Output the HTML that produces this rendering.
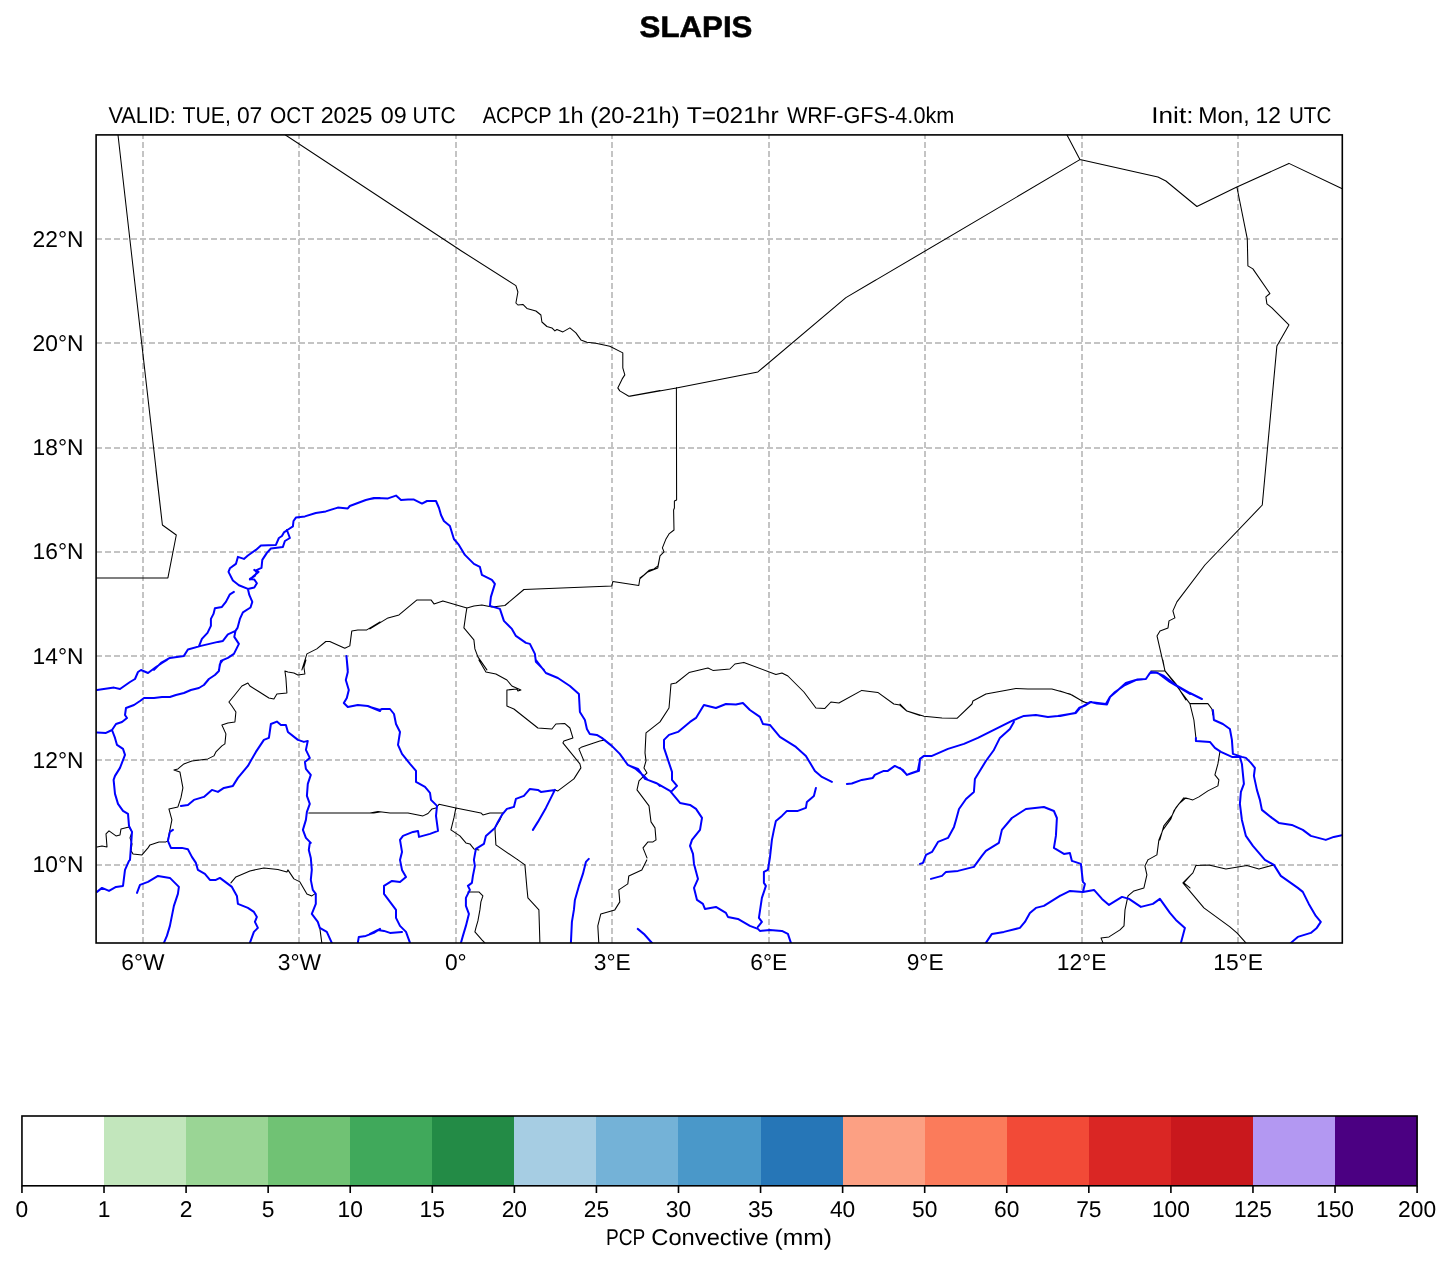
<!DOCTYPE html>
<html><head><meta charset="utf-8"><style>
html,body{margin:0;padding:0;background:#fff;width:1451px;height:1264px;overflow:hidden}
svg{will-change:transform}
.t{font-family:"Liberation Sans",sans-serif;fill:#000;text-rendering:geometricPrecision}
</style></head><body>
<svg width="1451" height="1264" viewBox="0 0 1451 1264" style="position:absolute;left:0;top:0">
<rect width="100%" height="100%" fill="#fff"/>
<text x="696" y="36.6" text-anchor="middle" font-size="29.8" font-weight="bold" stroke="#000" stroke-width="0.6" textLength="112.8" lengthAdjust="spacingAndGlyphs" class="t">SLAPIS</text>
<text x="108.48" y="123" font-size="22.8" textLength="67.24" lengthAdjust="spacingAndGlyphs" class="t">VALID:</text>
<text x="182.48" y="123" font-size="22.8" textLength="48.52" lengthAdjust="spacingAndGlyphs" class="t">TUE,</text>
<text x="236.90" y="123" font-size="22.8" textLength="25.43" lengthAdjust="spacingAndGlyphs" class="t">07</text>
<text x="270.01" y="123" font-size="22.8" textLength="44.19" lengthAdjust="spacingAndGlyphs" class="t">OCT</text>
<text x="320.69" y="123" font-size="22.8" textLength="51.72" lengthAdjust="spacingAndGlyphs" class="t">2025</text>
<text x="380.66" y="123" font-size="22.8" textLength="25.99" lengthAdjust="spacingAndGlyphs" class="t">09</text>
<text x="412.53" y="123" font-size="22.8" textLength="43.23" lengthAdjust="spacingAndGlyphs" class="t">UTC</text>
<text x="482.68" y="123" font-size="22.8" textLength="69.03" lengthAdjust="spacingAndGlyphs" class="t">ACPCP</text>
<text x="557.48" y="123" font-size="22.8" textLength="26.13" lengthAdjust="spacingAndGlyphs" class="t">1h</text>
<text x="590.39" y="123" font-size="22.8" textLength="89.23" lengthAdjust="spacingAndGlyphs" class="t">(20-21h)</text>
<text x="686.69" y="123" font-size="22.8" textLength="91.91" lengthAdjust="spacingAndGlyphs" class="t">T=021hr</text>
<text x="786.89" y="123" font-size="22.8" textLength="167.50" lengthAdjust="spacingAndGlyphs" class="t">WRF-GFS-4.0km</text>
<text x="1151.32" y="123" font-size="22.8" textLength="42.13" lengthAdjust="spacingAndGlyphs" class="t">Init:</text>
<text x="1198.23" y="123" font-size="22.8" textLength="51.35" lengthAdjust="spacingAndGlyphs" class="t">Mon,</text>
<text x="1255.53" y="123" font-size="22.8" textLength="25.41" lengthAdjust="spacingAndGlyphs" class="t">12</text>
<text x="1288.99" y="123" font-size="22.8" textLength="42.24" lengthAdjust="spacingAndGlyphs" class="t">UTC</text>
<text x="606.01" y="1244.7" font-size="22.8" textLength="39.30" lengthAdjust="spacingAndGlyphs" class="t">PCP</text>
<text x="651.28" y="1244.7" font-size="22.8" textLength="117.33" lengthAdjust="spacingAndGlyphs" class="t">Convective</text>
<text x="774.54" y="1244.7" font-size="22.8" textLength="57.41" lengthAdjust="spacingAndGlyphs" class="t">(mm)</text>
<defs><clipPath id="c"><rect x="96.1" y="134.9" width="1246.2" height="808.1"/></clipPath></defs>
<g clip-path="url(#c)">
<path d="M143 133.3V945 M299 133.3V945 M456 133.3V945 M612 133.3V945 M769 133.3V945 M925 133.3V945 M1082 133.3V945 M1238 133.3V945 M96.17 865H1345 M96.17 760H1345 M96.17 656H1345 M96.17 552H1345 M96.17 448H1345 M96.17 343H1345 M96.17 239H1345" stroke="#c4c4c4" stroke-width="1.8" stroke-dasharray="5.8 3.03" fill="none" shape-rendering="crispEdges"/>
<path d="M118.0 135.0 L162.4 525.0 M285.5 135.0 L460.0 250.0 M156.0 470.0 L162.4 525.0 L176.3 535.0 L167.9 577.9 L96.0 577.9 M301.9 669.9 L306.9 653.9 L316.8 648.9 L325.8 641.5 L329.8 641.5 L344.8 648.3 L349.8 645.9 L351.8 630.9 L357.8 629.9 L366.8 629.9 L380.0 621.9 M305.9 660.0 L303.9 667.0 L304.9 674.0 L297.9 675.0 L293.9 673.0 L287.9 672.0 L284.9 671.0 L285.9 678.0 L286.9 693.0 L276.9 694.0 L273.9 699.0 L268.9 698.0 L257.9 691.0 L249.9 686.0 L247.9 683.0 L241.9 686.0 L233.9 696.0 L228.9 702.0 L231.9 706.0 L235.9 712.0 L234.9 722.0 L227.9 723.0 L221.9 725.0 L225.9 733.9 L224.9 743.9 L221.9 745.9 L215.9 751.9 L213.9 755.9 L207.9 758.9 L191.9 760.9 L183.9 763.9 L177.9 768.9 L173.9 769.9 L179.9 771.9 L182.9 787.9 L180.9 797.9 L177.9 806.9 L168.9 808.9 L171.9 819.9 L169.9 829.9 L167.9 839.9 M308.8 812.9 L373.8 812.9 L380.0 811.9 M97.0 846.9 L102.0 845.9 L107.0 846.9 L106.0 833.9 L109.0 830.9 L116.0 835.9 L120.0 834.9 L121.0 828.9 L129.0 826.9 L132.0 831.9 L130.0 837.9 L132.0 843.9 L131.0 850.9 L133.0 853.9 L142.0 854.9 L148.0 847.9 L150.0 844.9 L159.0 841.9 L165.9 841.9 L167.9 840.9 M230.9 882.9 L235.9 876.9 L249.9 870.9 L263.9 867.9 L277.9 869.5 L286.9 871.9 L287.9 869.9 L293.9 878.9 L299.9 881.9 L306.9 893.9 L311.8 895.9 L314.8 893.9 M319.8 927.9 L321.8 942.9 M459.9 250.0 L515.9 285.6 L517.9 292.0 L515.9 303.0 L517.9 305.0 L522.9 304.4 L526.9 308.4 L535.9 311.0 L540.9 315.0 L541.9 322.0 L546.9 326.5 L551.9 327.9 L554.9 330.9 L556.9 329.5 L562.9 331.9 L569.9 327.9 L575.9 332.9 L580.9 339.9 L586.9 342.3 L595.8 343.3 L609.8 346.3 L622.8 352.9 L622.8 367.9 L624.8 374.9 L622.2 378.9 L617.8 387.9 L619.8 390.9 L628.8 396.3 L660.0 390.5 M370.0 628.9 L388.0 617.9 L399.0 614.9 L417.0 599.9 L431.0 599.9 L434.0 603.9 L442.9 600.9 L466.9 607.9 L473.9 605.9 L481.9 604.9 L491.9 606.9 L504.9 605.5 L523.9 589.5 L611.8 585.9 L612.8 581.5 L638.8 585.5 L639.8 578.9 L647.8 571.9 L657.8 567.9 L660.0 555.9 M466.9 607.9 L465.9 613.9 L463.9 627.9 L473.9 639.9 L474.9 648.9 L477.9 656.9 L486.9 669.9 M478.9 660.0 L485.9 672.0 L495.9 674.0 L506.9 680.0 L511.9 686.0 L520.9 690.0 L517.9 691.0 L516.9 689.0 L506.9 690.0 L506.9 706.0 L513.9 709.0 L537.9 728.0 L551.9 729.0 L555.9 724.0 L564.9 723.6 L569.9 728.0 L572.9 737.9 L563.9 740.9 L562.9 742.9 L579.9 763.9 L580.9 767.9 L573.9 778.9 L557.9 790.9 L554.9 789.9 M583.9 760.9 L578.9 748.9 L581.9 746.9 L599.8 740.9 L604.8 739.9 M370.0 812.9 L378.0 811.5 L390.0 812.9 L408.0 812.9 L423.0 815.9 L428.0 813.5 L432.0 808.9 L436.0 807.9 L439.0 804.3 L455.9 807.9 L480.9 812.9 L482.9 814.9 L489.9 812.9 L502.9 812.9 M455.9 807.9 L453.9 817.9 L450.9 829.9 L459.9 835.9 L465.9 842.9 L469.9 843.9 L473.9 848.9 L478.9 849.9 M502.9 812.9 L499.9 819.9 L494.9 827.9 L495.9 844.9 L517.9 859.9 M467.9 891.9 L478.9 891.9 L482.9 895.9 L480.9 901.9 L479.9 909.9 L477.9 920.9 L475.9 927.9 L474.9 931.9 L481.9 939.9 L484.9 942.9 M517.9 859.9 L524.9 864.9 L526.9 887.9 L527.9 897.9 L538.9 909.9 L539.9 942.9 M646.8 859.9 L641.8 869.9 L628.8 875.9 L627.8 883.9 L618.8 889.9 L619.8 901.9 L614.8 909.9 L600.8 913.9 L597.8 925.9 L598.8 942.9 M630.0 396.3 L676.4 387.9 L757.9 371.9 L845.9 297.6 L875.8 280.0 M876.1 279.9 L1000.0 206.9 L1079.9 159.6 L1067.0 135.0 M1079.9 159.6 L1157.9 177.0 L1165.9 181.0 L1196.9 206.5 L1236.8 187.0 M1236.9 187.0 L1288.9 163.4 L1342.8 189.0 M1236.9 187.0 L1247.3 238.9 L1247.9 265.9 L1252.9 268.9 L1269.9 293.5 L1265.9 296.9 L1266.9 303.9 L1271.9 307.9 L1288.9 324.9 L1276.9 345.9 L1262.3 504.7 M1262.3 505.0 L1204.9 565.0 L1176.9 601.9 L1172.9 610.9 L1174.9 617.9 L1169.0 620.9 L1168.0 627.9 L1160.0 630.9 L1157.0 635.9 L1165.0 670.9 L1151.0 670.9 M1165.0 670.9 L1175.9 683.9 L1185.9 699.9 M1162.9 660.0 L1164.9 671.0 L1150.9 671.0 M1164.9 671.0 L1175.9 685.0 L1189.9 703.6 L1207.9 703.6 L1211.9 709.0 L1212.9 715.0 M1189.9 703.6 L1193.9 720.0 L1195.9 737.9 M1219.9 751.9 L1217.9 763.9 L1214.9 774.9 L1218.9 779.9 L1217.9 785.9 L1207.9 790.9 L1198.9 796.9 L1192.9 799.9 L1185.9 797.9 L1178.9 803.9 L1173.9 810.9 L1170.9 818.9 L1162.9 829.9 L1158.9 839.9 L1156.9 854.9 L1147.9 859.9 M1060.0 691.0 L1072.0 695.0 L1082.0 701.0 L1087.0 703.0 M1147.9 859.9 L1144.9 865.9 L1146.9 874.9 L1143.9 887.9 L1133.9 890.9 L1128.0 895.9 L1125.0 909.9 L1124.0 925.9 L1120.0 929.9 L1109.0 936.9 L1101.0 937.9 L1103.0 942.9 M1182.9 882.9 L1192.9 872.9 L1195.9 865.5 L1208.9 864.9 L1225.9 868.9 L1246.9 865.5 L1258.9 868.9 L1273.9 864.9 M1182.9 882.9 L1203.9 907.9 L1229.9 926.9 L1236.9 932.9 L1245.9 942.9 M676.4 387.6 L676.6 500.0 L674.4 501.0 L674.4 508.0 L673.6 510.0 L674.0 530.0 L669.0 533.9 L666.0 538.9 L662.4 547.9 L664.0 551.9 L660.0 555.9 L658.0 565.9 L654.0 568.9 L649.0 570.3 L644.0 574.9 L640.0 577.9 M656.0 839.9 L655.0 827.9 L651.0 821.9 L649.0 805.9 L637.0 789.9 L639.0 780.9 L647.0 772.9 L644.0 767.9 L646.0 760.9 L645.0 752.9 L646.0 732.9 L660.0 721.9 L669.0 708.0 L671.0 684.0 L676.0 683.0 L689.0 672.6 L707.9 668.0 L712.9 670.4 L729.9 669.0 L734.9 664.0 L743.9 662.4 L775.9 674.4 L781.9 673.0 L787.9 676.0 L803.9 692.0 L815.9 708.0 L824.9 708.4 L830.9 702.0 L838.9 703.0 L861.8 690.4 L877.8 692.4 L893.8 704.0 L899.8 705.0 L906.8 711.0 L920.0 715.5 M656.0 839.9 L653.0 841.9 L648.0 841.9 L643.0 847.9 L647.0 857.9 M900.0 704.0 L907.0 711.0 L924.0 716.3 L942.0 717.9 L957.0 718.3 L972.0 704.0 L972.9 701.0 L985.9 694.0 L1015.9 688.4 L1027.9 689.0 L1051.9 689.0 L1069.9 694.0 L1083.9 702.0 L1087.9 703.0 M1159.8 839.9 L1163.8 825.9 L1171.8 815.9 L1175.8 807.9 L1183.8 797.9 L1190.0 798.9 M1190.0 875.9 L1183.8 882.9 L1190.0 887.9" fill="none" stroke="#000" stroke-width="1.05" stroke-linejoin="round" stroke-linecap="round"/>
<path d="M380.0 498.0 L373.8 498.0 L365.8 500.0 L349.8 506.0 L347.8 508.4 L337.8 507.6 L325.8 511.4 L315.8 513.0 L304.9 516.4 L295.9 517.6 L293.5 521.0 L292.9 526.4 L288.9 529.0 L283.9 532.4 L281.9 536.0 L278.9 538.0 L275.9 544.9 L260.9 545.5 L255.9 549.9 L247.9 555.5 L243.9 558.9 L237.9 556.9 L235.9 563.9 L229.9 568.3 L228.5 571.9 L232.9 580.5 L238.9 585.3 L247.9 588.9 L254.3 587.5 L256.9 583.3 L254.3 579.5 L249.9 578.9 L254.9 575.9 L256.9 571.9 L254.3 569.9 M286.9 530.0 L289.9 538.0 L284.9 541.0 L282.9 546.9 L270.9 548.5 L266.9 552.9 L262.3 559.9 L261.5 567.9 L255.9 570.3 L258.5 571.9 L254.3 575.5 L249.9 579.5 M247.9 588.9 L249.3 594.9 L252.3 601.9 L250.5 607.5 L242.9 612.3 L239.9 618.9 L237.5 627.9 L235.5 630.9 L227.9 634.3 L222.9 640.9 L217.9 641.9 L200.9 645.9 L187.9 649.5 L183.9 655.9 L169.9 657.9 L161.0 662.9 L154.0 669.9 M235.5 630.9 L234.3 636.9 L238.9 643.9 L233.9 653.9 L227.9 657.9 L220.9 660.9 L218.9 669.9 M233.9 591.9 L229.9 594.3 L225.9 601.9 L221.9 606.9 L214.9 608.3 L213.5 613.9 L210.9 618.9 L210.9 625.9 L207.5 632.9 L201.9 638.9 L198.9 646.3 M346.4 655.9 L347.8 669.9 M166.9 660.0 L162.0 663.0 L156.0 667.0 L148.0 673.0 L141.0 670.0 L138.0 672.0 L135.0 679.0 L130.0 682.0 L120.0 689.0 L114.0 687.6 L97.0 690.0 M222.9 660.0 L219.9 664.0 L218.9 671.0 L214.9 675.0 L208.9 679.0 L203.9 685.0 L198.9 688.0 L190.9 690.0 L183.9 693.0 L175.9 695.0 L169.9 697.0 L162.0 697.0 L154.0 698.0 L144.0 698.0 L140.0 701.0 L134.0 705.0 L126.0 708.0 L125.0 715.0 L127.0 718.0 L122.0 722.0 L116.0 724.0 L112.0 730.0 L106.0 732.9 L97.0 732.4 M112.0 730.0 L115.0 737.9 L117.0 744.9 L123.0 748.9 L125.0 754.9 L120.0 767.9 L115.0 775.9 L113.6 779.9 L115.0 793.9 L118.0 803.9 L123.0 810.9 L128.0 813.9 L129.0 825.9 L132.0 831.9 L131.0 845.9 L130.0 859.9 M180.9 805.9 L187.9 804.9 L193.9 799.9 L203.9 796.9 L211.9 789.9 L217.9 791.9 L223.9 787.9 L232.9 785.9 L237.9 777.9 L247.9 765.9 L255.9 751.9 L263.9 739.9 L268.9 737.9 L270.9 724.0 L276.9 721.6 L280.9 725.0 L285.9 725.0 L287.9 732.0 L297.9 739.9 L303.9 741.9 L307.8 740.9 L305.9 749.9 L309.8 757.9 L304.9 761.9 L305.9 768.9 L310.8 774.9 L307.8 783.9 L306.9 795.9 L309.8 803.9 L306.9 811.9 L305.9 819.9 L302.9 829.9 L305.9 837.9 L310.8 842.9 M346.8 660.0 L347.8 672.0 L345.8 680.0 L348.8 690.0 L346.8 698.0 L343.8 703.0 L347.8 707.0 L357.8 705.0 L367.8 706.0 L380.0 711.0 M130.0 859.9 L129.0 860.9 L125.0 869.9 L123.0 885.9 L116.0 886.9 L109.0 890.9 L102.0 887.9 L97.0 891.9 M172.9 829.9 L169.9 831.9 L167.9 840.9 L170.9 847.9 L181.9 847.9 L187.9 849.3 L191.9 856.9 L195.9 862.9 L197.9 869.9 L204.9 873.9 L209.9 879.9 L215.9 879.9 L219.9 877.9 L227.9 883.9 L231.9 886.9 L236.9 895.9 L237.9 903.9 L247.9 907.9 L253.9 911.9 L256.9 916.9 L254.9 921.9 L257.9 927.9 L253.9 931.9 L249.9 942.9 M137.0 892.9 L140.0 884.9 L148.0 881.9 L158.0 875.9 L169.9 877.9 L178.9 886.9 L177.9 893.9 L173.9 905.9 L171.9 915.9 L169.9 925.9 L166.9 935.9 L163.9 942.9 M309.8 842.9 L308.8 849.9 L310.8 857.9 L311.8 869.9 L310.8 879.9 L312.8 889.9 L315.8 893.9 L315.8 903.9 L311.8 913.9 L317.8 921.9 L319.8 927.9 L326.8 931.9 L331.8 942.9 M357.8 942.9 L358.8 936.9 L365.8 935.9 L373.8 932.9 L380.0 928.9 M370.0 499.0 L376.0 498.0 L388.0 498.4 L396.0 495.6 L401.0 500.0 L408.0 499.6 L414.0 499.6 L422.0 503.6 L427.0 501.0 L436.0 501.0 L439.0 508.0 L441.0 515.0 L443.9 521.0 L449.9 526.0 L453.9 539.0 L458.9 544.9 L464.9 554.9 L473.9 563.9 L479.9 566.9 L481.9 574.9 L491.9 579.9 L494.9 583.9 L490.9 596.9 L489.9 605.9 L499.9 608.9 L503.9 620.9 L511.9 628.9 L515.9 635.9 L525.9 642.9 L529.9 643.9 L534.9 653.9 L535.9 661.9 L543.9 669.9 M535.9 660.0 L545.9 673.0 L557.9 678.0 L569.9 686.0 L578.9 694.0 L579.9 712.0 L584.9 720.0 L586.9 729.0 L589.8 733.9 L596.8 734.9 L601.8 737.9 L611.8 745.9 L619.8 753.9 L627.8 764.9 L635.8 768.9 L642.8 774.9 L647.8 779.9 L657.8 783.9 L660.0 785.9 M370.0 707.0 L380.0 710.0 L382.0 709.0 L390.0 709.0 L394.0 714.0 L396.0 724.0 L400.0 732.0 L398.0 744.9 L402.0 753.9 L410.0 763.9 L416.0 770.9 L416.0 781.9 L425.0 786.9 L430.0 792.9 L431.0 799.9 L437.0 805.9 L436.0 815.9 L438.0 830.9 L430.0 833.9 L419.0 836.9 L418.0 830.9 L413.0 831.9 L403.0 835.9 L400.0 839.9 L402.0 851.9 L400.0 859.9 M473.9 859.9 L475.9 848.9 L483.9 843.9 L485.9 835.9 L494.9 827.9 L497.9 821.9 L501.9 814.9 L506.9 808.9 L513.9 806.9 L515.9 798.9 L523.9 795.9 L529.9 788.9 L537.9 789.9 L540.9 791.9 L554.9 789.9 M554.9 789.9 L549.9 799.9 L545.9 807.9 L537.9 821.9 L532.9 829.9 M400.0 859.9 L402.0 869.9 L406.0 876.9 L400.0 881.9 L392.0 880.9 L384.0 885.9 L384.0 893.9 L390.0 901.9 L396.0 909.9 L396.0 917.9 L400.0 925.9 L406.0 931.9 L410.0 942.9 M370.0 933.9 L378.0 929.9 L384.0 930.9 L390.0 932.9 L402.0 931.9 M473.9 859.9 L474.9 865.9 L472.9 875.9 L471.9 882.9 L467.9 885.9 L469.9 889.9 L465.9 897.9 L465.9 905.9 L468.9 913.9 L465.9 925.9 L462.9 935.9 L460.9 942.9 M588.8 858.9 L585.9 861.9 L582.9 873.9 L578.9 885.9 L574.9 899.9 L573.9 909.9 L571.9 921.9 L570.9 942.9 M637.8 928.9 L643.8 933.9 L651.8 942.9 M1060.0 716.0 L1075.0 713.0 L1079.0 708.0 L1086.0 705.0 L1091.0 702.0 L1097.0 703.6 L1107.0 704.4 L1110.0 697.0 L1115.0 692.0 L1125.0 685.0 L1136.9 679.6 L1145.9 679.0 L1149.9 673.0 L1155.9 672.4 L1163.9 676.0 L1175.9 685.0 L1189.9 693.0 L1201.9 699.0 M1212.9 710.0 L1213.9 720.0 L1222.9 724.0 L1229.9 729.0 L1231.9 739.9 L1232.9 753.9 L1238.9 755.9 L1241.9 756.9 L1245.9 757.9 L1250.9 762.9 L1254.9 767.9 L1253.9 775.9 L1256.9 789.9 L1259.9 799.9 L1261.9 809.9 L1271.9 817.9 L1278.8 822.9 L1291.8 824.9 L1302.8 829.9 L1310.8 835.9 L1325.8 839.9 L1333.8 836.9 L1343.8 834.9 M1195.9 737.9 L1195.9 740.9 L1209.9 741.9 L1214.9 747.9 L1220.9 751.9 L1231.9 756.9 L1239.9 756.9 M1239.9 756.9 L1241.9 763.9 L1242.9 773.9 L1243.9 783.9 L1240.9 791.9 L1239.9 803.9 L1241.9 819.9 L1245.9 835.9 L1252.9 845.9 L1264.9 859.9 M1060.0 895.9 L1070.0 890.9 L1083.0 891.9 L1094.0 889.9 L1102.0 898.9 L1109.0 904.9 L1122.0 896.9 L1129.0 898.9 L1140.9 906.9 L1152.9 903.9 L1159.9 898.9 L1169.9 912.9 L1175.9 919.9 L1184.9 927.9 L1180.9 942.9 M1264.9 859.9 L1273.9 864.9 L1280.8 875.9 L1297.8 887.9 L1302.8 891.9 L1308.8 903.9 L1315.8 915.9 L1320.8 921.9 L1316.8 927.9 L1310.8 932.9 L1297.8 936.9 L1290.8 942.9 M630.0 765.9 L638.0 768.9 L645.0 778.9 L656.0 782.9 L670.0 790.9 L680.0 802.9 L690.0 804.9 L696.0 808.9 L702.0 817.9 L700.0 829.9 L692.0 839.9 M671.0 791.9 L677.0 785.9 L672.0 779.9 L672.0 771.9 L664.0 747.9 L664.0 739.9 L669.0 734.9 L678.0 731.9 L690.0 721.9 L696.0 717.9 L703.9 705.0 L715.9 708.0 L725.9 704.0 L735.9 704.4 L742.9 703.0 L749.9 710.0 L759.9 716.9 L762.9 723.9 L769.9 724.9 L779.9 736.9 L795.9 746.9 L805.9 755.9 L814.9 770.9 L821.9 776.9 L831.9 781.9 M846.9 783.9 L851.8 783.5 L861.8 779.9 L872.8 777.9 L874.8 774.9 L883.8 770.9 L887.8 770.9 L894.8 765.9 L902.8 769.9 L906.8 774.9 L911.8 772.9 L917.8 770.9 L920.0 759.9 M815.9 787.9 L813.9 795.9 L806.9 801.9 L805.9 807.9 L797.9 810.9 L786.9 810.9 L781.9 815.9 L775.9 820.9 L773.9 829.9 L771.9 839.9 M692.0 839.9 L690.0 845.9 L693.0 853.9 L694.0 863.9 L698.0 878.9 L694.0 887.9 L697.0 899.9 L702.9 903.9 L704.9 908.9 L715.9 906.9 L725.9 912.9 L727.9 916.9 L737.9 918.9 L749.9 925.9 L757.9 928.9 L759.9 930.9 L769.9 929.9 L781.9 930.9 L787.9 933.9 L790.9 942.9 M771.9 839.9 L769.9 857.9 L767.9 869.9 L763.9 871.9 L763.9 882.9 L765.9 885.9 L761.9 897.9 L758.9 917.9 L761.9 921.9 L757.9 926.9 M638.0 928.9 L644.0 933.9 L652.0 942.9 M900.0 767.9 L907.0 774.9 L919.0 770.9 L920.0 758.9 L924.0 755.9 L932.0 755.9 L948.0 748.9 L964.0 743.9 L977.9 737.9 L993.9 729.9 L1011.9 720.9 L1023.9 715.9 L1035.9 714.9 L1047.9 716.9 L1057.9 715.9 L1075.9 712.9 L1079.9 708.0 L1089.9 702.0 L1105.9 704.0 L1109.9 697.0 L1115.9 692.0 L1125.8 683.0 L1135.8 680.0 L1145.8 679.0 L1150.8 672.0 L1157.8 673.0 L1169.8 682.0 L1190.0 694.0 M1013.9 721.9 L1009.9 728.9 L999.9 737.9 L993.9 749.9 M993.9 750.0 L985.9 761.0 L974.9 779.0 L973.9 792.0 L966.0 799.0 L959.0 809.0 L956.0 820.0 L954.0 826.9 L948.0 837.9 L938.0 841.9 L932.0 851.9 L926.0 854.9 L923.0 862.9 L920.0 863.9 M931.0 878.9 L942.0 875.9 L946.0 871.9 L958.0 870.9 L973.9 866.9 L981.9 855.9 L985.9 850.9 L998.9 842.9 L1001.9 829.9 L1011.9 818.0 L1025.9 809.0 L1043.9 807.0 L1053.9 811.0 L1056.9 818.0 L1055.9 835.9 L1053.9 847.9 L1063.9 853.9 L1069.9 852.9 L1071.9 860.9 L1080.9 863.9 L1082.9 881.9 L1084.9 883.9 L1082.9 891.9 M985.9 942.9 L991.9 933.9 L1003.9 931.9 L1019.9 927.9 L1024.9 921.9 L1029.9 912.9 L1035.9 907.9 L1043.9 905.9 L1059.9 895.9" fill="none" stroke="#0000ff" stroke-width="2.0" stroke-linejoin="round" stroke-linecap="round"/>
</g>
<rect x="96.1" y="134.9" width="1246.20" height="808.10" fill="none" stroke="#000" stroke-width="1.6"/>
<text x="142.97" y="969.7" text-anchor="middle" font-size="22.8" class="t">6°W</text>
<text x="299.41" y="969.7" text-anchor="middle" font-size="22.8" class="t">3°W</text>
<text x="455.85" y="969.7" text-anchor="middle" font-size="22.8" class="t">0°</text>
<text x="612.29" y="969.7" text-anchor="middle" font-size="22.8" class="t">3°E</text>
<text x="768.73" y="969.7" text-anchor="middle" font-size="22.8" class="t">6°E</text>
<text x="925.17" y="969.7" text-anchor="middle" font-size="22.8" class="t">9°E</text>
<text x="1081.61" y="969.7" text-anchor="middle" font-size="22.8" class="t">12°E</text>
<text x="1238.05" y="969.7" text-anchor="middle" font-size="22.8" class="t">15°E</text>
<text x="83.5" y="872.30" text-anchor="end" font-size="22.8" class="t">10°N</text>
<text x="83.5" y="768.00" text-anchor="end" font-size="22.8" class="t">12°N</text>
<text x="83.5" y="663.70" text-anchor="end" font-size="22.8" class="t">14°N</text>
<text x="83.5" y="559.40" text-anchor="end" font-size="22.8" class="t">16°N</text>
<text x="83.5" y="455.10" text-anchor="end" font-size="22.8" class="t">18°N</text>
<text x="83.5" y="350.80" text-anchor="end" font-size="22.8" class="t">20°N</text>
<text x="83.5" y="246.50" text-anchor="end" font-size="22.8" class="t">22°N</text>
<rect x="21.95" y="1116.0" width="82.05" height="69.79999999999995" fill="#ffffff" shape-rendering="crispEdges"/>
<rect x="104" y="1116.0" width="82.00" height="69.79999999999995" fill="#c2e6bc" shape-rendering="crispEdges"/>
<rect x="186" y="1116.0" width="82.00" height="69.79999999999995" fill="#9ad595" shape-rendering="crispEdges"/>
<rect x="268" y="1116.0" width="82.00" height="69.79999999999995" fill="#70c274" shape-rendering="crispEdges"/>
<rect x="350" y="1116.0" width="82.00" height="69.79999999999995" fill="#40a95b" shape-rendering="crispEdges"/>
<rect x="432" y="1116.0" width="82.00" height="69.79999999999995" fill="#238b46" shape-rendering="crispEdges"/>
<rect x="514" y="1116.0" width="82.00" height="69.79999999999995" fill="#a6cde3" shape-rendering="crispEdges"/>
<rect x="596" y="1116.0" width="82.00" height="69.79999999999995" fill="#74b2d7" shape-rendering="crispEdges"/>
<rect x="678" y="1116.0" width="83.00" height="69.79999999999995" fill="#4a98c9" shape-rendering="crispEdges"/>
<rect x="761" y="1116.0" width="82.00" height="69.79999999999995" fill="#2676b7" shape-rendering="crispEdges"/>
<rect x="843" y="1116.0" width="82.00" height="69.79999999999995" fill="#fca083" shape-rendering="crispEdges"/>
<rect x="925" y="1116.0" width="82.00" height="69.79999999999995" fill="#fb7b5b" shape-rendering="crispEdges"/>
<rect x="1007" y="1116.0" width="82.00" height="69.79999999999995" fill="#f24a37" shape-rendering="crispEdges"/>
<rect x="1089" y="1116.0" width="82.00" height="69.79999999999995" fill="#da2624" shape-rendering="crispEdges"/>
<rect x="1171" y="1116.0" width="82.00" height="69.79999999999995" fill="#c9181d" shape-rendering="crispEdges"/>
<rect x="1253" y="1116.0" width="82.00" height="69.79999999999995" fill="#b398f2" shape-rendering="crispEdges"/>
<rect x="1335" y="1116.0" width="82.10" height="69.79999999999995" fill="#4b0082" shape-rendering="crispEdges"/>
<rect x="21.95" y="1116.0" width="1395.15" height="69.79999999999995" fill="none" stroke="#000" stroke-width="1.6"/>
<text x="21.95" y="1216.8" text-anchor="middle" font-size="22.8" class="t">0</text>
<text x="104.02" y="1216.8" text-anchor="middle" font-size="22.8" class="t">1</text>
<text x="186.09" y="1216.8" text-anchor="middle" font-size="22.8" class="t">2</text>
<text x="268.15" y="1216.8" text-anchor="middle" font-size="22.8" class="t">5</text>
<text x="350.22" y="1216.8" text-anchor="middle" font-size="22.8" class="t">10</text>
<text x="432.29" y="1216.8" text-anchor="middle" font-size="22.8" class="t">15</text>
<text x="514.36" y="1216.8" text-anchor="middle" font-size="22.8" class="t">20</text>
<text x="596.42" y="1216.8" text-anchor="middle" font-size="22.8" class="t">25</text>
<text x="678.49" y="1216.8" text-anchor="middle" font-size="22.8" class="t">30</text>
<text x="760.56" y="1216.8" text-anchor="middle" font-size="22.8" class="t">35</text>
<text x="842.63" y="1216.8" text-anchor="middle" font-size="22.8" class="t">40</text>
<text x="924.69" y="1216.8" text-anchor="middle" font-size="22.8" class="t">50</text>
<text x="1006.76" y="1216.8" text-anchor="middle" font-size="22.8" class="t">60</text>
<text x="1088.83" y="1216.8" text-anchor="middle" font-size="22.8" class="t">75</text>
<text x="1170.90" y="1216.8" text-anchor="middle" font-size="22.8" class="t">100</text>
<text x="1252.96" y="1216.8" text-anchor="middle" font-size="22.8" class="t">125</text>
<text x="1335.03" y="1216.8" text-anchor="middle" font-size="22.8" class="t">150</text>
<text x="1417.10" y="1216.8" text-anchor="middle" font-size="22.8" class="t">200</text>
<path d="M21.95 1185.8V1192.9 M104.02 1185.8V1192.9 M186.09 1185.8V1192.9 M268.15 1185.8V1192.9 M350.22 1185.8V1192.9 M432.29 1185.8V1192.9 M514.36 1185.8V1192.9 M596.42 1185.8V1192.9 M678.49 1185.8V1192.9 M760.56 1185.8V1192.9 M842.63 1185.8V1192.9 M924.69 1185.8V1192.9 M1006.76 1185.8V1192.9 M1088.83 1185.8V1192.9 M1170.90 1185.8V1192.9 M1252.96 1185.8V1192.9 M1335.03 1185.8V1192.9 M1417.10 1185.8V1192.9" stroke="#000" stroke-width="1.6"/>
</svg>
</body></html>
